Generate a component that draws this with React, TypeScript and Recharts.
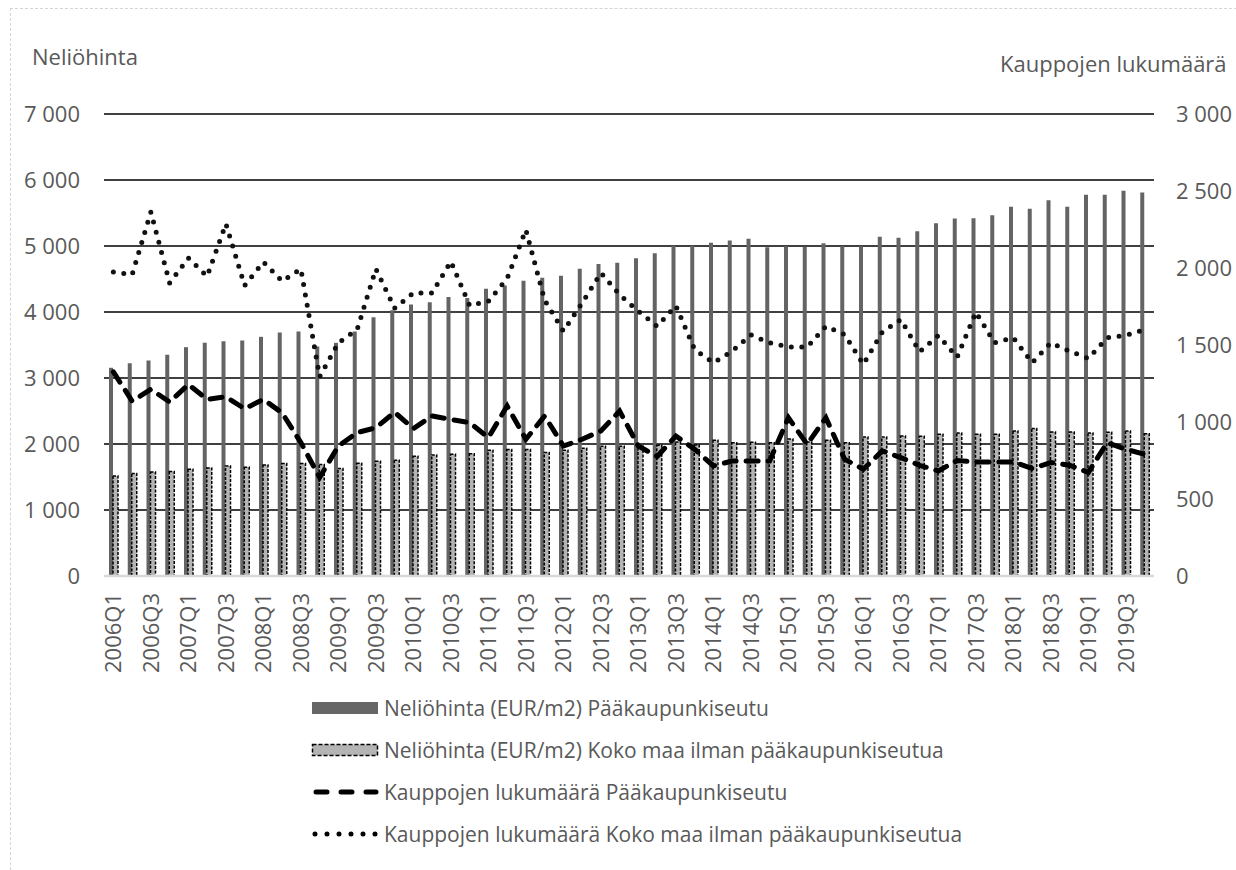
import React from 'react';
import { ComposedChart, Bar, Line, XAxis, YAxis, CartesianGrid } from 'recharts';

const quarters = [
  '2006Q1', '2006Q2', '2006Q3', '2006Q4', '2007Q1', '2007Q2', '2007Q3', '2007Q4',
  '2008Q1', '2008Q2', '2008Q3', '2008Q4', '2009Q1', '2009Q2', '2009Q3', '2009Q4',
  '2010Q1', '2010Q2', '2010Q3', '2010Q4', '2011Q1', '2011Q2', '2011Q3', '2011Q4',
  '2012Q1', '2012Q2', '2012Q3', '2012Q4', '2013Q1', '2013Q2', '2013Q3', '2013Q4',
  '2014Q1', '2014Q2', '2014Q3', '2014Q4', '2015Q1', '2015Q2', '2015Q3', '2015Q4',
  '2016Q1', '2016Q2', '2016Q3', '2016Q4', '2017Q1', '2017Q2', '2017Q3', '2017Q4',
  '2018Q1', '2018Q2', '2018Q3', '2018Q4', '2019Q1', '2019Q2', '2019Q3', '2019Q4',
];

// Neliöhinta (EUR/m2) Pääkaupunkiseutu
const priceCapital = [
  3155, 3225, 3266, 3352, 3467, 3533, 3558, 3568,
  3624, 3689, 3704, 3477, 3533, 3704, 3921, 4027,
  4113, 4148, 4229, 4214, 4354, 4400, 4475, 4520,
  4551, 4657, 4728, 4748, 4813, 4889, 5005, 5005,
  5050, 5085, 5110, 4980, 4995, 4990, 5040, 4995,
  4995, 5140, 5125, 5225, 5345, 5418, 5420, 5467,
  5595, 5565, 5695, 5595, 5775, 5775, 5836, 5810,
];

// Neliöhinta (EUR/m2) Koko maa ilman pääkaupunkiseutua
const priceOther = [
  1517, 1552, 1577, 1582, 1617, 1638, 1668, 1648,
  1683, 1703, 1703, 1690, 1628, 1708, 1738, 1754,
  1814, 1834, 1844, 1854, 1905, 1915, 1915, 1870,
  1905, 1935, 1965, 1965, 1970, 1980, 2030, 1985,
  2056, 2020, 2025, 2020, 2076, 2030, 2056, 2020,
  2106, 2106, 2121, 2116, 2147, 2167, 2147, 2147,
  2197, 2233, 2182, 2182, 2167, 2177, 2197, 2157,
];

// Kauppojen lukumäärä Pääkaupunkiseutu
const dealsCapital = [
  1325, 1136, 1212, 1130, 1244, 1147, 1164, 1086,
  1147, 1059, 866, 640, 844, 931, 963, 1063,
  957, 1039, 1017, 996, 899, 1104, 888, 1039,
  844, 888, 942, 1071, 844, 776, 909, 823,
  715, 747, 747, 747, 1028, 855, 1028, 758,
  693, 812, 769, 719, 682, 750, 741, 741,
  741, 698, 737, 719, 672, 866, 823, 790,
];

// Kauppojen lukumäärä Koko maa ilman pääkaupunkiseutua
const dealsOther = [
  1974, 1957, 2363, 1903, 2065, 1946, 2287, 1886,
  2039, 1914, 1994, 1294, 1514, 1600, 1994, 1739,
  1838, 1838, 2043, 1756, 1784, 1931, 2248, 1791,
  1590, 1773, 1968, 1827, 1719, 1622, 1755, 1471,
  1385, 1460, 1566, 1514, 1488, 1486, 1622, 1568,
  1374, 1583, 1665, 1456, 1562, 1421, 1713, 1514,
  1547, 1385, 1514, 1460, 1413, 1547, 1562, 1600,
];

const leftTicks = [0, 1000, 2000, 3000, 4000, 5000, 6000, 7000];
const rightTicks = [0, 500, 1000, 1500, 2000, 2500, 3000];

const legendLabels = [
  'Neliöhinta (EUR/m2) Pääkaupunkiseutu',
  'Neliöhinta (EUR/m2) Koko maa ilman pääkaupunkiseutua',
  'Kauppojen lukumäärä Pääkaupunkiseutu',
  'Kauppojen lukumäärä Koko maa ilman pääkaupunkiseutua',
];

const data = quarters.map((q, i) => ({
  q,
  priceCapital: priceCapital[i],
  priceOther: priceOther[i],
  dealsCapital: dealsCapital[i],
  dealsOther: dealsOther[i],
}));

const FONT = '"Open Sans", sans-serif';
const TEXT = '#595959';

const fmt = (v: number) =>
  v >= 1000 ? `${Math.floor(v / 1000)} ${String(v % 1000).padStart(3, '0')}` : String(v);

const QuarterTick = (props: any) => {
  const { x, payload } = props;
  return (
    <text
      transform={`translate(${x},593) rotate(-90)`}
      textAnchor="end"
      dy="0.36em"
      fill={TEXT}
      fontSize={22}
      fontFamily={FONT}
    >
      {payload.value}
    </text>
  );
};

const LegendIcon = ({ i }: { i: number }) => (
  <svg width={70} height={20} style={{ position: 'absolute', left: 310, top: -10 }}>
    {i === 0 && <rect x={2} y={4} width={66} height={12} fill="#666666" />}
    {i === 1 && (
      <rect x={2.5} y={4.5} width={65} height={11} fill="#b4b4b4" stroke="#000" strokeWidth={1.5} strokeDasharray="4 2" />
    )}
    {i === 2 && (
      <line x1={6} y1={10} x2={66} y2={10} stroke="#000" strokeWidth={5} strokeDasharray="11 14" strokeLinecap="round" />
    )}
    {i === 3 && (
      <line x1={5} y1={10} x2={68} y2={10} stroke="#000" strokeWidth={5} strokeDasharray="0 12" strokeLinecap="round" />
    )}
  </svg>
);

export default function App() {
  const rowY = [708, 750, 792, 834];
  return (
    <div style={{ position: 'fixed', left: 0, top: 0, width: 1236, height: 870, overflow: 'hidden', background: '#fff', fontFamily: FONT }}>
      <div style={{ position: 'absolute', left: 10, top: 8, width: 1400, height: 1000, border: '1px dashed #d4d4d4' }} />
      <div style={{ position: 'absolute', left: 32, top: 41, fontSize: 22, lineHeight: '30px', color: TEXT }}>Neliöhinta</div>
      <div style={{ position: 'absolute', left: 1000, top: 48, fontSize: 22, lineHeight: '30px', color: TEXT, whiteSpace: 'nowrap' }}>
        Kauppojen lukumäärä
      </div>
      <div style={{ position: 'absolute', left: 0, top: 0 }}>
        <ComposedChart
          width={1236}
          height={870}
          data={data}
          margin={{ top: 114, right: 0, bottom: 194, left: 0 }}
          barGap={0}
          style={{ fontFamily: FONT }}
        >
          <CartesianGrid yAxisId="left" vertical={false} stroke="#000" strokeWidth={1.6} />
          <XAxis
            dataKey="q"
            interval={1}
            height={100}
            tickLine={false}
            axisLine={{ stroke: '#d9d9d9', strokeWidth: 2.5 }}
            tick={<QuarterTick />}
          />
          <YAxis
            yAxisId="left"
            width={104}
            domain={[0, 7000]}
            ticks={leftTicks}
            tickFormatter={fmt}
            axisLine={false}
            tickLine={false}
            tickSize={0}
            tickMargin={24}
            tick={{ fill: TEXT, fontSize: 22, fontFamily: FONT }}
          />
          <YAxis
            yAxisId="right"
            orientation="right"
            width={82}
            domain={[0, 3000]}
            ticks={rightTicks}
            tickFormatter={fmt}
            axisLine={false}
            tickLine={false}
            tickSize={0}
            tickMargin={22}
            tick={{ fill: TEXT, fontSize: 22, fontFamily: FONT, textAnchor: 'start' }}
          />
          <Bar yAxisId="left" dataKey="priceCapital" barSize={4} fill="#646464" isAnimationActive={false} />
          <Bar
            yAxisId="left"
            dataKey="priceOther"
            barSize={5}
            fill="#b4b4b4"
            stroke="#000"
            strokeWidth={1.5}
            strokeDasharray="3 1.5"
            isAnimationActive={false}
          />
          <Line
            yAxisId="right"
            type="linear"
            dataKey="dealsCapital"
            stroke="#000"
            strokeWidth={5}
            strokeDasharray="12 10"
            strokeLinecap="round"
            dot={false}
            activeDot={false}
            isAnimationActive={false}
          />
          <Line
            yAxisId="right"
            type="linear"
            dataKey="dealsOther"
            stroke="#111"
            strokeWidth={5}
            strokeDasharray="0 10.5"
            strokeLinecap="round"
            dot={false}
            activeDot={false}
            isAnimationActive={false}
          />
        </ComposedChart>
      </div>
      {legendLabels.map((label, i) => (
        <div key={label} style={{ position: 'absolute', left: 0, top: rowY[i], width: 1236, height: 0 }}>
          <LegendIcon i={i} />
          <div style={{ position: 'absolute', left: 384, top: -15, fontSize: 21, lineHeight: '30px', color: TEXT, whiteSpace: 'nowrap' }}>
            {label}
          </div>
        </div>
      ))}
    </div>
  );
}
